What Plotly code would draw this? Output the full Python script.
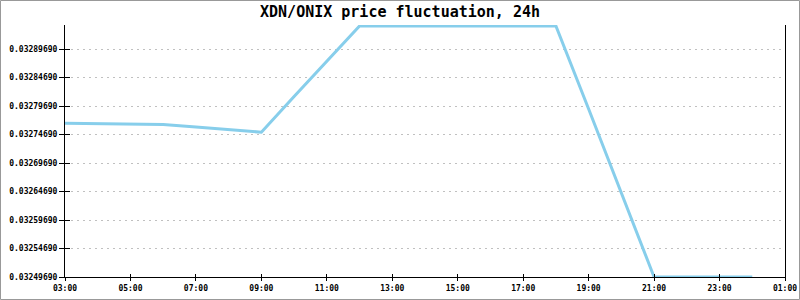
import plotly.graph_objects as go

# ---- data ----
hours = [3, 4, 5, 6, 7, 8, 9, 10, 11, 12, 13, 14, 15, 16, 17, 18, 19, 20, 21, 22, 23, 24]
prices = [0.0327667, 0.0327662, 0.0327655, 0.0327646, 0.0327601, 0.0327557, 0.0327509,
          0.0328136, 0.0328759, 0.0329373, 0.0329373, 0.0329373, 0.0329373, 0.0329373,
          0.0329373, 0.0329373, 0.0327916, 0.0326443, 0.0324969, 0.0324969, 0.0324969,
          0.0324969]
x_tick_vals = [3, 5, 7, 9, 11, 13, 15, 17, 19, 21, 23, 25]
x_tick_labels = ["03:00", "05:00", "07:00", "09:00", "11:00", "13:00", "15:00",
                 "17:00", "19:00", "21:00", "23:00", "01:00"]
y_tick0 = 0.0324969
y_dtick = 0.00005
y_top = 0.0329390
title_text = "XDN/ONIX price fluctuation, 24h"

W, H = 800, 300
ML, MR, MT, MB = 65, 15, 25, 23

fig = go.Figure()
fig.add_trace(go.Scatter(x=hours, y=prices, mode="lines",
                         line=dict(color="#87CEEB", width=3),
                         hoverinfo="skip", showlegend=False))
fig.add_trace(go.Scatter(x=[], y=[], xaxis="x2", yaxis="y2", showlegend=False))

tickfont = dict(family="DejaVu Sans Mono", size=8, color="black", weight="bold")
common_x = dict(range=[3, 25], tickvals=x_tick_vals, ticktext=x_tick_labels,
                showgrid=False, zeroline=False, automargin=False)
common_y = dict(range=[y_tick0, y_top], tick0=y_tick0, dtick=y_dtick, tickmode="linear",
                zeroline=False, automargin=False)

fig.update_layout(
    width=W, height=H,
    margin=dict(l=ML, r=MR, t=MT, b=MB, pad=0),
    paper_bgcolor="white", plot_bgcolor="white",
    title=dict(text="<b>" + title_text + "</b>", x=0.5, xanchor="center",
               y=1 - 12 / H, yanchor="middle", automargin=False,
               font=dict(family="DejaVu Sans Mono", size=15, color="black")),
    xaxis=dict(**common_x, showline=True, linecolor="black", linewidth=1,
               ticks="outside", ticklen=3, tickcolor="black", tickwidth=1,
               tickfont=tickfont),
    yaxis=dict(**common_y, showline=True, linecolor="black", linewidth=1, mirror=True,
               ticks="outside", ticklen=5, tickcolor="black", tickwidth=1,
               tickformat=".8f", tickfont=tickfont,
               showgrid=True, gridcolor="#c0c0c0", gridwidth=1, griddash="2px,4px"),
    xaxis2=dict(**common_x, overlaying="x", matches="x", anchor="y2", showline=False,
                side="bottom", ticks="inside", ticklen=3, tickcolor="black", tickwidth=1,
                showticklabels=False),
    yaxis2=dict(**common_y, overlaying="y", matches="y", anchor="x2", showline=False,
                side="left", ticks="inside", ticklen=5, tickcolor="black", tickwidth=1,
                showticklabels=False, showgrid=False),
    shapes=[dict(type="rect", xref="paper", yref="paper",
                 x0=(-ML + 0.5) / (W - ML - MR), x1=1 + (MR - 0.5) / (W - ML - MR),
                 y0=(-MB + 0.5) / (H - MT - MB), y1=1 + (MT - 0.5) / (H - MT - MB),
                 line=dict(color="#999999", width=1), layer="below")],
)

fig.write_html("out.html")
